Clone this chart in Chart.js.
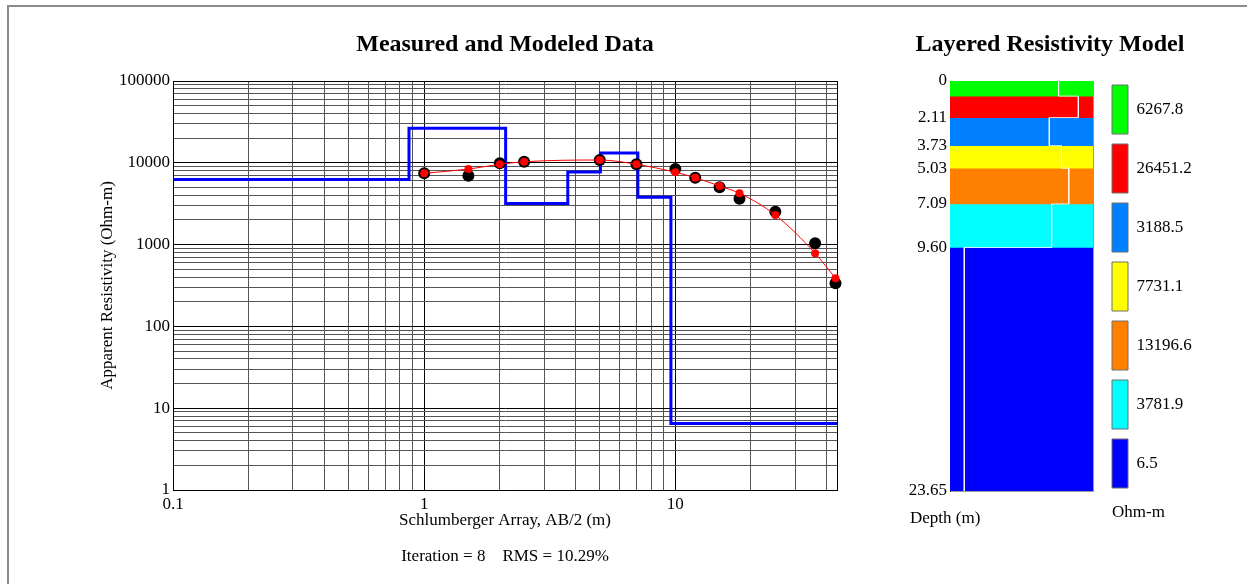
<!DOCTYPE html>
<html>
<head>
<meta charset="utf-8">
<script src="https://cdn.jsdelivr.net/npm/chart.js@4.4.0/dist/chart.umd.min.js"></script>
<style>
  html, body { margin: 0; padding: 0; background: #fff; }
  #page { position: relative; width: 1247px; height: 584px; overflow: hidden; font-family: 'Liberation Serif', serif; }
  #frame { position: absolute; left: 7px; top: 5px; width: 1260px; height: 600px; border-top: 2px solid #8c8c8c; border-left: 2px solid #8c8c8c; }
  canvas { position: absolute; top: 0; }
  #curve { left: 0; }
  #model { left: 853px; }
  .note { position: absolute; font-size: 17px; line-height: 20px; color: #000; white-space: nowrap; }
</style>
</head>
<body>
<div id="page">
  <div id="frame"></div>
  <canvas id="curve" width="853" height="584"></canvas>
  <canvas id="model" width="394" height="584"></canvas>
  <div class="note" style="left:910px; top:508px;">Depth (m)</div>
  <div class="note" style="left:1112px; top:502px;">Ohm-m</div>
</div>
<script>
// sounding curve (AB/2 in m, apparent resistivity in Ohm-m)
const spacing  = [1, 1.5, 2, 2.5, 5, 7, 10, 12, 15, 18, 25, 36, 43.4];
const measured = [7450, 6950, 9860, 10300, 10820, 9590, 8380, 6580, 5010, 3640, 2520, 1040, 337];
const modeled  = [7450, 8380, 9590, 10300, 10820, 9590, 7660, 6580, 5200, 4240, 2300, 783, 387];

// layered model
const layerTop = [0, 0.87, 2.11, 3.73, 5.03, 7.09, 9.60];
const totalDepth = 23.65;
const layerRho = [6267.8, 26451.2, 3188.5, 7731.1, 13196.6, 3781.9, 6.5];
const layerColors = ['#00ff00', '#ff0000', '#0080ff', '#ffff00', '#ff8000', '#00ffff', '#0000ff'];

// axes
const xMin = 0.1, xMax = 44;
const yMin = 1, yMax = 100000;
const xTickValues = [0.1, 1, 10];
const xTickLabels = ['0.1', '1', '10'];
const yTickValues = [1, 10, 100, 1000, 10000, 100000];
const yTickLabels = ['1', '10', '100', '1000', '10000', '100000'];
const depthTickValues = [0, 2.11, 3.73, 5.03, 7.09, 9.60, 23.65];
const depthTickLabels = ['0', '2.11', '3.73', '5.03', '7.09', '9.60', '23.65'];
const statusText = 'Iteration = 8    RMS = 10.29%';

const FONT = "'Liberation Serif', 'Times New Roman', serif";
Chart.defaults.font.family = FONT;
Chart.defaults.color = '#000';

function labelFor(values, labels, v) {
  const i = values.findIndex(t => Math.abs(t - v) <= Math.abs(t) * 1e-6 + 1e-9);
  return i < 0 ? '' : labels[i];
}

// 1..9 x each decade, used for the log grid
function logGrid(min, max) {
  const out = [];
  for (let e = Math.floor(Math.log10(min)); Math.pow(10, e) <= max; e++) {
    for (let m = 1; m <= 9; m++) {
      const t = m * Math.pow(10, e);
      if (t >= min * 0.9999 && t <= max * 1.0001) out.push(t);
    }
  }
  if (out[out.length - 1] < max * 0.9999) out.push(max);
  return out;
}

function isDecade(v) {
  const l = Math.log10(v);
  return Math.abs(l - Math.round(l)) < 1e-6;
}

const gridColor = (c) => (isDecade(c.tick.value) || c.tick.value === xMax) ? '#000' : '#555';

// blue step line of the layered model
const modelSteps = [{ x: xMin, y: layerRho[0] }]
  .concat(layerTop.slice(1).map((d, i) => ({ x: d, y: layerRho[i + 1] })))
  .concat([{ x: xMax, y: layerRho[layerRho.length - 1] }]);

new Chart(document.getElementById('curve'), {
  type: 'line',
  data: {
    datasets: [
      {
        label: 'Modeled',
        data: spacing.map((x, i) => ({ x: x, y: modeled[i] })),
        borderColor: '#ff0000',
        backgroundColor: '#ff0000',
        borderWidth: 1,
        pointRadius: 4,
        pointBorderWidth: 0,
        cubicInterpolationMode: 'monotone',
        clip: 10
      },
      {
        label: 'Measured',
        data: spacing.map((x, i) => ({ x: x, y: measured[i] })),
        showLine: false,
        backgroundColor: '#000',
        borderColor: '#000',
        pointRadius: 6,
        pointBorderWidth: 0,
        clip: 10
      },
      {
        label: 'Model',
        data: modelSteps,
        borderColor: '#0000ff',
        borderWidth: 3,
        pointRadius: 0,
        stepped: true
      }
    ]
  },
  options: {
    responsive: false,
    animation: false,
    events: [],
    layout: { padding: { left: 90, right: 16, top: 0, bottom: 0 } },
    scales: {
      x: {
        type: 'logarithmic',
        min: xMin,
        max: xMax,
        bounds: 'data',
        afterBuildTicks: (s) => { s.ticks = logGrid(xMin, xMax).map(v => ({ value: v })); },
        afterFit: (s) => { s.height = 41; },
        ticks: {
          autoSkip: false, maxRotation: 0, minRotation: 0, padding: 4,
          font: { size: 17 },
          callback: (v) => labelFor(xTickValues, xTickLabels, v)
        },
        grid: { color: gridColor, lineWidth: 1, drawTicks: false },
        border: { display: true, color: '#000', width: 1 },
        title: { display: true, text: 'Schlumberger Array, AB/2 (m)', font: { size: 17 }, padding: { top: 0, bottom: 0 } }
      },
      y: {
        type: 'logarithmic',
        min: yMin,
        max: yMax,
        bounds: 'data',
        afterBuildTicks: (s) => { s.ticks = logGrid(yMin, yMax).map(v => ({ value: v })); },
        afterFit: (s) => { s.width = 83; },
        ticks: {
          autoSkip: false, padding: 3,
          font: { size: 17 },
          callback: (v) => labelFor(yTickValues, yTickLabels, v)
        },
        grid: { color: gridColor, lineWidth: 1, drawTicks: false },
        border: { display: true, color: '#000', width: 1 },
        title: { display: true, text: 'Apparent Resistivity (Ohm-m)', font: { size: 17 }, padding: { top: 7, bottom: 0 } }
      }
    },
    plugins: {
      legend: { display: false },
      tooltip: { enabled: false },
      title: {
        display: true,
        fullSize: false,
        text: 'Measured and Modeled Data',
        font: { size: 24, weight: 'bold' },
        padding: { top: 30.6, bottom: 21.6 }
      },
      subtitle: {
        display: true,
        fullSize: false,
        position: 'bottom',
        text: statusText,
        font: { size: 17 },
        padding: { top: 15, bottom: 17.6 }
      }
    }
  }
});

// white profile line inside the column
const layerBottom = layerTop.slice(1).concat([totalDepth]);
const profile = [];
layerRho.forEach((r, i) => {
  profile.push({ x: r, y: layerTop[i] });
  profile.push({ x: r, y: layerBottom[i] });
});

// legend width = padding + box + half font + text + 10
const legendLabels = layerRho.map(r => r.toFixed(1));
const mctx = document.createElement('canvas').getContext('2d');
mctx.font = 'normal 17px ' + FONT;
const textW = Math.max(...legendLabels.map(t => mctx.measureText(t).width));
const legendW = 10 + 16 + 8.5 + textW + 10;
const sidePad = 145 - legendW;

new Chart(document.getElementById('model'), {
  type: 'bar',
  data: {
    labels: [''],
    datasets: [
      {
        type: 'line',
        data: profile,
        xAxisID: 'x2',
        yAxisID: 'y',
        borderColor: 'rgba(255,255,255,0.85)',
        borderWidth: 1,
        pointRadius: 0
      }
    ].concat(layerRho.map((r, i) => ({
      label: legendLabels[i],
      data: [[layerTop[i], layerBottom[i]]],
      backgroundColor: layerColors[i],
      borderWidth: 0,
      barPercentage: 1,
      categoryPercentage: 1,
      grouped: false,
      xAxisID: 'x',
      yAxisID: 'y'
    })))
  },
  options: {
    responsive: false,
    animation: false,
    events: [],
    layout: { padding: { left: sidePad, right: sidePad, top: 0, bottom: 0 } },
    scales: {
      x: {
        type: 'category',
        offset: true,
        position: 'bottom',
        afterFit: (s) => { s.height = 93; },
        ticks: { display: false },
        grid: { display: false, drawTicks: false, offset: true },
        border: { display: true, color: '#9a9a9a' }
      },
      x2: {
        type: 'logarithmic',
        position: 'top',
        offset: false,
        min: 2.3,
        max: 77000,
        bounds: 'data',
        afterFit: (s) => { s.height = 0; },
        ticks: { display: false },
        grid: { display: false, drawTicks: false, offset: false },
        border: { display: true, color: '#9a9a9a' }
      },
      y: {
        type: 'linear',
        position: 'left',
        reverse: true,
        min: 0,
        max: totalDepth,
        afterBuildTicks: (s) => { s.ticks = depthTickValues.map(v => ({ value: v })); },
        afterFit: (s) => { s.width = 97 - sidePad; },
        ticks: {
          autoSkip: false, padding: 3,
          font: { size: 17 },
          callback: (v) => labelFor(depthTickValues, depthTickLabels, v)
        },
        grid: { display: false, drawTicks: false },
        border: { display: true, color: '#333' }
      },
      yR: {
        type: 'linear',
        position: 'right',
        min: 0,
        max: totalDepth,
        afterFit: (s) => { s.width = 9; },
        ticks: { display: false },
        grid: { display: false, drawTicks: false },
        border: { display: true, color: '#9a9a9a' }
      }
    },
    plugins: {
      tooltip: { enabled: false },
      title: {
        display: true,
        text: 'Layered Resistivity Model',
        font: { size: 24, weight: 'bold' },
        padding: { top: 30.6, bottom: 21.6 }
      },
      legend: {
        display: true,
        position: 'right',
        fullSize: true,
        align: 'start',
        maxWidth: 300,
        title: { display: true, text: '', font: { size: 12 }, padding: { top: 60.6, bottom: 0 } },
        labels: {
          boxWidth: 16,
          boxHeight: 49,
          padding: 10,
          font: { size: 17 },
          generateLabels: () => layerRho.map((r, i) => ({
            text: legendLabels[i],
            fillStyle: layerColors[i],
            strokeStyle: '#6e6e6e',
            lineWidth: 1,
            hidden: false,
            datasetIndex: i + 1
          }))
        }
      }
    }
  }
});
</script>
</body>
</html>
